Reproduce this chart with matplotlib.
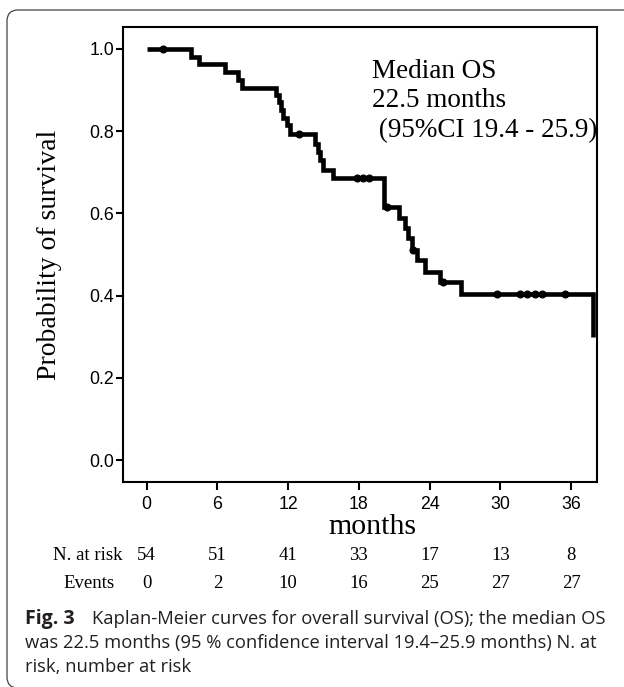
import matplotlib
matplotlib.use("Agg")
import matplotlib.pyplot as plt
from matplotlib.patches import FancyBboxPatch
from matplotlib.transforms import blended_transform_factory

# ---- data ----
step_t = [0, 3.73, 4.44, 6.65, 7.72, 8.06, 11.0, 11.2, 11.4, 11.6, 11.9, 12.2,
          14.3, 14.5, 14.7, 15.0, 15.8, 20.1, 21.4, 21.9, 22.2, 22.5, 22.9,
          23.6, 24.9, 26.7, 37.9]
step_s = [1.0, 0.981, 0.963, 0.944, 0.925, 0.906, 0.889, 0.870, 0.852, 0.833,
          0.815, 0.793, 0.770, 0.750, 0.730, 0.706, 0.687, 0.616, 0.589, 0.564,
          0.540, 0.511, 0.487, 0.458, 0.432, 0.403, 0.30]
cens_t = [1.36, 12.9, 17.85, 18.35, 18.9, 20.4, 22.6, 25.1, 29.7, 31.7, 32.3,
          32.9, 33.5, 35.5]
cens_s = [1.0, 0.793, 0.687, 0.687, 0.687, 0.616, 0.511, 0.432, 0.403, 0.403,
          0.403, 0.403, 0.403, 0.403]

x_ticks = [0, 6, 12, 18, 24, 30, 36]
y_ticks = [0.0, 0.2, 0.4, 0.6, 0.8, 1.0]
at_risk = [54, 51, 41, 33, 17, 13, 8]
events = [0, 2, 10, 16, 25, 27, 27]

W, H = 624, 687
fig = plt.figure(figsize=(W / 100, H / 100), dpi=100)

def fx(px):
    return px / W

def fy(py):
    return 1 - py / H

ax = fig.add_axes([fx(123), fy(482), fx(597) - fx(123), fy(27) - fy(482)])
ax.step(step_t, step_s, where="post", color="black", lw=3.3,
        solid_joinstyle="miter", solid_capstyle="butt", zorder=3)
ax.plot(cens_t, cens_s, "o", color="black", ms=4.8, zorder=4)

ax.set_xlim(-2.0, 38.2)
ax.set_ylim(-0.0535, 1.0535)
ax.set_xticks(x_ticks)
ax.set_yticks(y_ticks)
ax.set_yticklabels([f"{v:.1f}" for v in y_ticks])
for sp in ax.spines.values():
    sp.set_linewidth(1.5)
ax.tick_params(axis="both", direction="out", width=1.5, labelsize=12.8,
               labelfontfamily="Liberation Sans")
ax.tick_params(axis="y", length=5, pad=1.5)
ax.tick_params(axis="x", length=5.5, pad=4.5)

serif = "Liberation Serif"
ax.text(19.1, 0.975, "Median OS\n22.5 months\n (95%CI 19.4 - 25.9)",
        family=serif, fontsize=19.5, va="top", ha="left", linespacing=1.22)

fig.text(fx(372), fy(527), "months", family=serif, fontsize=21.5,
         ha="center", va="center")
fig.text(fx(50), fy(255), "Probability of survival", family=serif,
         fontsize=20, rotation=90, ha="center", va="center")

tr = blended_transform_factory(ax.transData, fig.transFigure)
for t, n, e in zip(x_ticks, at_risk, events):
    ax.text(t, fy(555), str(n), transform=tr, family=serif, fontsize=13.5,
            ha="center", va="center")
    ax.text(t, fy(583), str(e), transform=tr, family=serif, fontsize=13.5,
            ha="center", va="center")
fig.text(fx(87.5), fy(555), "N. at risk", family=serif, fontsize=13.5,
         ha="center", va="center")
fig.text(fx(89), fy(583), "Events", family=serif, fontsize=13.5,
         ha="center", va="center")

# caption
cap_font = "Open Sans"
cap_col = "#231f20"
cap_size = 13.2
fig.text(fx(25), fy(619), "Fig. 3", family=cap_font, fontsize=14,
         weight="bold", color=cap_col, ha="left", va="center")
fig.text(fx(92), fy(619),
         "Kaplan-Meier curves for overall survival (OS); the median OS",
         family=cap_font, fontsize=cap_size, color=cap_col, ha="left",
         va="center")
fig.text(fx(25), fy(643),
         "was 22.5 months (95 % confidence interval 19.4\u201325.9 months) N. at",
         family=cap_font, fontsize=cap_size, color=cap_col, ha="left",
         va="center")
fig.text(fx(25), fy(667), "risk, number at risk", family=cap_font,
         fontsize=cap_size, color=cap_col, ha="left", va="center")

# outer rounded frame
frame = FancyBboxPatch((7 / 100, (H - 688) / 100), 7.0, (688 - 10) / 100,
                       boxstyle="round,pad=0,rounding_size=0.11",
                       transform=fig.dpi_scale_trans, fill=False,
                       edgecolor="#444444", lw=0.9)
fig.add_artist(frame)

fig.savefig("out.png", dpi=100)
